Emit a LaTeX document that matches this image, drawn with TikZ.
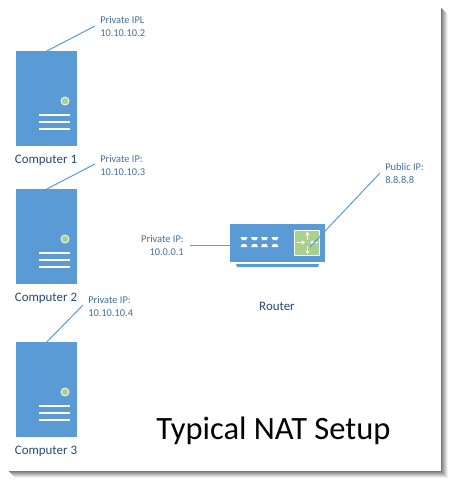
\documentclass[tikz,border=0pt]{standalone}
\usepackage{fontspec}
\setmainfont{Carlito}
\definecolor{srv}{HTML}{5B9BD5}
\definecolor{grn}{HTML}{A9D18E}
\definecolor{lbl}{HTML}{44709D}
\definecolor{cap}{HTML}{264A70}
\definecolor{wire}{HTML}{5B9BD5}
\usetikzlibrary{arrows.meta}
\tikzset{
  x=0.75pt,y=-0.75pt,
  box/.style={fill=srv,draw=none,inner sep=0pt,minimum width=45.75pt,minimum height=71.25pt,anchor=north west},
  lamp/.style={circle,fill=grn,draw=white,line width=0.6pt,inner sep=0pt,minimum size=6pt},
  slot/.style={draw=white,line width=1.1pt},
  capt/.style={text=cap,font=\fontsize{9.7pt}{11pt}\selectfont,inner sep=0pt},
  ip/.style={text=lbl,font=\fontsize{7.8pt}{9.75pt}\selectfont,inner sep=0pt,align=left,anchor=west},
  wirel/.style={draw=wire,line width=0.75pt},
  arr/.style={draw=white,line width=0.9pt,-{Stealth[length=2.6pt,width=3.4pt]}},
}
\begin{document}
\begin{tikzpicture}
\useasboundingbox (0,0) rectangle (456,486);
\fill[white] (0,0) rectangle (456,486);
% page shadow
\foreach \d/\g in {8/5,7/12,6/20,5/28,4/36,3/44,2/52,1/60}{
  \fill[black!\g] (7+\d,6+\d) rectangle (440+\d,470+\d);
}
\fill[white] (0,0) rectangle (441,471);
% servers
\foreach \n/\yy/\t/\cy in {1/51/Computer 1/160,2/189/Computer 2/298,3/342/Computer 3/451}{
  \node[box] (s\n) at (16,\yy) {};
  \node[lamp] (l\n) at (65,\yy+50) {};
  \draw[slot] (39,\yy+64) -- (70,\yy+64);
  \draw[slot] (39,\yy+71) -- (70,\yy+71);
  \draw[slot] (39,\yy+78) -- (70,\yy+78);
  \node[capt] (c\n) at (46,\cy) {\t};
}
% router
\node[fill=srv,inner sep=0pt,minimum width=71.25pt,minimum height=28.5pt,anchor=north west] (r) at (230,224) {};
\fill[srv] (236,264) -- (319,264) -- (318,267) -- (237,267) -- cycle;
\node[fill=grn,draw=white,line width=0.7pt,inner sep=0pt,minimum width=19pt,minimum height=19pt] (g) at (307,243) {};
\foreach \px in {240.5,251,261,271.5}{
  \fill[white] (\px,237) -- (\px+7,237) -- (\px+5.5,240) -- (\px+1.5,240) -- cycle;
  \fill[white] (\px+1.5,244) -- (\px+5.5,244) -- (\px+7,247) -- (\px,247) -- cycle;
}
\draw[arr] (297,242.5) -- (305,242.5);
\draw[arr] (317.5,242.5) -- (310,242.5);
\draw[arr] (307.5,240) -- (307.5,232);
\draw[arr] (307.5,246) -- (307.5,254);
% labels
\node[ip] (t1) at (100,26) {Private IPL\\10.10.10.2};
\node[ip] (t2) at (100,165) {Private IP:\\10.10.10.3};
\node[ip] (t3) at (88,306) {Private IP:\\10.10.10.4};
\node[ip,align=right,anchor=east] (t4) at (184,245) {Private IP:\\10.0.0.1};
\node[ip] (t5) at (385,173) {Public IP:\\8.8.8.8};
\node[capt] (rl) at (277,306) {Router};
\node[text=black,font=\fontsize{24.4pt}{30pt}\selectfont,inner sep=0pt] (title) at (273.5,431) {Typical NAT Setup};
% connectors
\coordinate (e1) at (95,26);
\coordinate (e2) at (95,164);
\coordinate (e3) at (83,305);
\coordinate (e4) at (190,245);
\coordinate (e5) at (380,173);
\coordinate (e6) at (310,247);
\draw[wirel] (s1.north) -- (e1);
\draw[wirel] (s2.north) -- (e2);
\draw[wirel] (s3.north) -- (e3);
\draw[wirel] (r.west|-e4) -- (e4);
\draw[wirel] (e6) -- (e5);
\end{tikzpicture}
\end{document}
